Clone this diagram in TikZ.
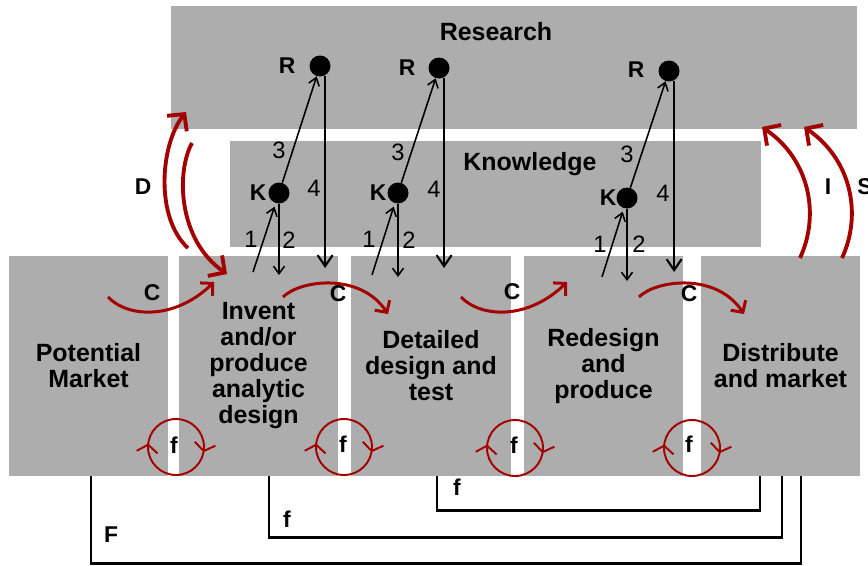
\documentclass[tikz,border=0pt]{standalone}
\usepackage{fontspec}
\setmainfont{Liberation Sans}
\usetikzlibrary{arrows.meta}
\usetikzlibrary{decorations.markings}

\definecolor{boxgray}{RGB}{173,173,173}
\definecolor{flowred}{RGB}{163,0,0}

\begin{document}
\begin{tikzpicture}[x=0.02cm,y=-0.02cm,
    stagebox/.style={fill=boxgray, inner sep=0pt, align=center,
        font=\fontsize{14.2}{14.8}\selectfont\bfseries},
    kdot/.style={circle, fill=black, inner sep=0pt, minimum size=0.42cm},
    letter/.style={inner sep=0pt, font=\fontsize{13}{13}\selectfont\bfseries},
    digit/.style={inner sep=0pt, font=\fontsize{13.5}{13.5}\selectfont},
    thinarrow/.style={line width=0.9pt, -{Straight Barb[length=0.15cm,width=0.22cm]}},
    downarrow/.style={line width=1.2pt, -{Straight Barb[length=0.22cm,width=0.3cm]}},
    bigred/.style={flowred, line width=2.2pt, -{Straight Barb[length=0.24cm,width=0.5cm]}},
    cred/.style={flowred, line width=1.7pt, -{Straight Barb[length=0.17cm,width=0.36cm]}},
    fred/.style={flowred, line width=1.1pt, postaction={decorate},
        decoration={markings,
            mark=at position 0.03 with {\arrow{Straight Barb[length=0.15cm,width=0.42cm]}},
            mark=at position 0.52 with {\arrow{Straight Barb[length=0.15cm,width=0.42cm]}}}},
    feedback/.style={line width=1.5pt}]
        \useasboundingbox (0,0) rectangle (868,565);

        % Boxes
        \node[stagebox, minimum width=13.72cm, minimum height=2.46cm] (research) at (514,67.5) {};
        \node[stagebox, minimum width=10.62cm, minimum height=2.12cm] (knowledge) at (495.5,194) {};
        \node[stagebox, minimum width=3.18cm, minimum height=4.4cm] (market) at (88.5,366) {Potential\\Market};
        \node[stagebox, minimum width=3.18cm, minimum height=4.4cm] (invent) at (258.5,366) {Invent\\and/or\\produce\\analytic\\design};
        \node[stagebox, minimum width=3.2cm, minimum height=4.4cm] (detail) at (431,366) {Detailed\\design and\\test};
        \node[stagebox, minimum width=3.18cm, minimum height=4.4cm] (redesign) at (603.5,366) {Redesign\\and\\produce};
        \node[stagebox, minimum width=3.18cm, minimum height=4.4cm] (distribute) at (780.5,366) {Distribute\\and market};

        \node[stagebox, fill=none] (lresearch) at (496,32) {Research};
        \node[stagebox, fill=none] (lknowledge) at (530,164) {Knowledge};

        % R und K
        \node[kdot] (R1) at (320,66) {};
        \node[kdot] (R2) at (439,68) {};
        \node[kdot] (R3) at (669,71) {};
        \node[kdot] (K1) at (279,193) {};
        \node[kdot] (K2) at (398,193) {};
        \node[kdot] (K3) at (627,198) {};

        \coordinate (s1) at (253,272);
        \coordinate (s2) at (372,275);
        \coordinate (s3) at (602,277);
        \coordinate (t1) at (279,275);
        \coordinate (t2) at (398,277);
        \coordinate (t3) at (627,281);
        \coordinate (e1) at (325,268);
        \coordinate (e2) at (443,268);
        \coordinate (e3) at (672,272);

        \draw[thinarrow] (K1) -- (R1);
        \draw[thinarrow] (K2) -- (R2);
        \draw[thinarrow] (K3) -- (R3);
        \draw[thinarrow, shorten >=2pt] (s1) -- (K1);
        \draw[thinarrow, shorten >=2pt] (s2) -- (K2);
        \draw[thinarrow, shorten >=2pt] (s3) -- (K3);
        \draw[thinarrow] (K1) -- (t1);
        \draw[thinarrow] (K2) -- (t2);
        \draw[thinarrow] (K3) -- (t3);
        \draw[downarrow] (R1.-62) -- (R1.-62 |- e1);
        \draw[downarrow] (R2.-62) -- (R2.-62 |- e2);
        \draw[downarrow] (R3.-62) -- (R3.-62 |- e3);

        \node[letter] (lR1) at (287,66) {R};
        \node[letter] (lR2) at (407,68) {R};
        \node[letter] (lR3) at (636,70) {R};
        \node[letter] (lK1) at (258,193) {K};
        \node[letter] (lK2) at (378,193) {K};
        \node[letter] (lK3) at (608,198) {K};
        \node[digit] (n31) at (279,150) {3};
        \node[digit] (n32) at (398,152) {3};
        \node[digit] (n33) at (627,154) {3};
        \node[digit] (n41) at (314,188) {4};
        \node[digit] (n42) at (434,189) {4};
        \node[digit] (n43) at (663,193) {4};
        \node[digit] (n11) at (251,239) {1};
        \node[digit] (n12) at (369,239) {1};
        \node[digit] (n13) at (600,244) {1};
        \node[digit] (n21) at (289,240) {2};
        \node[digit] (n22) at (409,240) {2};
        \node[digit] (n23) at (639,244) {2};

        % D, I, S
        \coordinate (d1a) at (188,248);
        \coordinate (d1b) at (186,112);
        \coordinate (d2a) at (192,143);
        \coordinate (d2b) at (227,274);
        \coordinate (i1a) at (800,258);
        \coordinate (i1b) at (762,127);
        \coordinate (i2a) at (842,258);
        \coordinate (i2b) at (804,127);
        \draw[bigred] (d1a) .. controls (155,218) and (160,145) .. (d1b);
        \draw[bigred] (d2a) .. controls (176,172) and (178,240) .. (d2b);
        \draw[bigred] (i1a) .. controls (820,215) and (810,160) .. (i1b);
        \draw[bigred] (i2a) .. controls (862,215) and (852,160) .. (i2b);
        \node[letter] (lD) at (143,187) {D};
        \node[letter] (lI) at (828,187) {I};
        \node[letter] (lS) at (865,187) {S};

        % C
        \coordinate (c1a) at (108,297);
        \coordinate (c1b) at (214,282);
        \coordinate (c2a) at (283,297);
        \coordinate (c2b) at (388,314);
        \coordinate (c3a) at (461,297);
        \coordinate (c3b) at (567,282);
        \coordinate (c4a) at (639,297);
        \coordinate (c4b) at (744,314);
        \draw[cred] (c1a) .. controls (128,318) and (175,320) .. (c1b);
        \draw[cred] (c2a) .. controls (300,280) and (360,272) .. (c2b);
        \draw[cred] (c3a) .. controls (481,318) and (528,320) .. (c3b);
        \draw[cred] (c4a) .. controls (656,280) and (716,272) .. (c4b);
        \node[letter] (lC1) at (152,293) {C};
        \node[letter] (lC2) at (338,294) {C};
        \node[letter] (lC3) at (512,292) {C};
        \node[letter] (lC4) at (689,294) {C};

        % f
        \draw[fred] (176,447) circle[radius=28];
        \draw[fred] (344,447) circle[radius=28];
        \draw[fred] (515,448) circle[radius=28];
        \draw[fred] (692,448) circle[radius=28];
        \node[letter] (lf1) at (174,445) {f};
        \node[letter] (lf2) at (343,444) {f};
        \node[letter] (lf3) at (514,445) {f};
        \node[letter] (lf4) at (689,444) {f};

        % F
        \draw[feedback] ([xshift=0.05cm]market.south) -- ++(0,87) -| ([xshift=0.41cm]distribute.south);
        \draw[feedback] ([xshift=0.21cm]invent.south) -- ++(0,61) -| ([xshift=0.03cm]distribute.south);
        \draw[feedback] ([xshift=0.12cm]detail.south) -- ++(0,34) -| ([xshift=-0.41cm]distribute.south);
        \node[letter] (lF) at (111,535) {F};
        \node[letter] (lf5) at (287,519) {f};
        \node[letter] (lf6) at (457,487) {f};

    \end{tikzpicture}
\end{document}
